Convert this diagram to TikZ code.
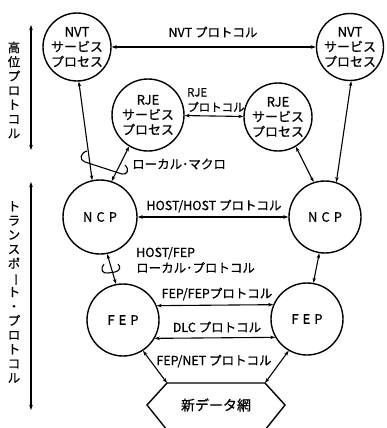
\documentclass[tikz,border=0pt]{standalone}
\usepackage{fontspec}
\newfontfamily\jp[FakeBold=0.6]{Noto Sans CJK JP}
\usetikzlibrary{arrows.meta,calc}
% vertical long-vowel mark for stacked (tategaki) text
\newcommand\tatebar{\rotatebox[origin=c]{-90}{ー}}
\begin{document}
\begin{tikzpicture}[x=1pt,y=-1pt,
  proc/.style={circle,draw,line width=1.4pt,inner sep=0pt,align=center,
    font=\jp\fontsize{13}{15}\selectfont},
  lbl/.style={font=\jp\fontsize{12.5}{15.5}\selectfont,inner sep=1pt},
  vtext/.style={font=\jp\fontsize{12.5}{14.3}\selectfont,align=center,inner sep=0pt},
  link/.style={line width=1.1pt,{Stealth[length=5pt,width=3.5pt]}-{Stealth[length=5pt,width=3.5pt]}},
  hookline/.style={line width=1.1pt}]
\useasboundingbox (0,0) rectangle (386,428);

% process circles
\node[proc,minimum size=68pt] (nvtL) at (77,47) {NVT\\サービス\\プロセス};
\node[proc,minimum size=67pt] (nvtR) at (350,47) {NVT\\サービス\\プロセス};
\node[proc,minimum size=72pt] (rjeL) at (148,115) {RJE\\サービス\\プロセス};
\node[proc,minimum size=68pt] (rjeR) at (278,117) {RJE\\サービス\\プロセス};
\node[proc,minimum size=74pt] (ncpL) at (100,217) {N\hspace{4pt}C\hspace{4pt}P};
\node[proc,minimum size=72pt] (ncpR) at (325,217) {N\hspace{4pt}C\hspace{4pt}P};
\node[proc,minimum size=72pt] (fepL) at (123,320) {F\hspace{4pt}E\hspace{4pt}P};
\node[proc,minimum size=72pt] (fepR) at (307,319) {F\hspace{4pt}E\hspace{4pt}P};

% network hexagon (bottom edge runs off the page)
\node[font=\jp\fontsize{14}{14}\selectfont] (net) at (216,405) {新データ網};
\coordinate (hexTL) at (167,383);
\coordinate (hexTR) at (265,383);
\draw[line width=1.4pt] (167,430) -- (147,405) -- (hexTL) -- (hexTR) -- (285,405) -- (265,430);

% peer protocols
\draw[link] (nvtL) -- (nvtR);
\node[lbl] (lnvt) at (213,32) {NVT プロトコル};
\draw[link] (rjeL) -- (rjeR);
\node[lbl,font=\jp\fontsize{11.5}{15}\selectfont,align=left,anchor=west] (lrje) at (186,100) {RJE\\プロトコル};
\draw[link] (ncpL) -- (ncpR);
\node[lbl] (lhost) at (214,206) {HOST/HOST プロトコル};
\draw[link] (fepL.23) -- (fepR.157);
\node[lbl] (lfep) at (217,294) {FEP/FEPプロトコル};
\draw[link] (fepL.-30) -- (fepR.-150);
\node[lbl] (ldlc) at (217,327) {DLC プロトコル};
\node[lbl] (lnet) at (214,361) {FEP/NET プロトコル};

% vertical interfaces
\draw[link] (nvtL.-87) -- (ncpL.102);
\draw[link] (rjeL.239) -- (ncpL.72);
\draw[link] (nvtR.-88) -- (ncpR.72);
\draw[link] (rjeR.-59) -- (ncpR.108);
\draw[link] (ncpL.-79) -- (fepL.101);
\draw[link] (ncpR.-99) -- (fepR.80);
\draw[link] (fepL.-57) -- (hexTL);
\draw[link] (fepR.240) -- (hexTR);

% local macro bracket
\draw[hookline] (87,151) .. controls (80,153) and (79,160) .. (85,162)
  -- (122,174) .. controls (127,175) and (130,170) .. (125,165);
\node[lbl,anchor=west] (lmac) at (131,164) {ローカル･マクロ};

% HOST/FEP local protocol bracket
\draw[hookline] (104,264) .. controls (100,269) and (102,274) .. (108,273)
  -- (115,272) .. controls (120,271) and (121,267) .. (118,264);
\node[lbl,align=left,anchor=west] (lhf) at (135,260) {HOST/FEP\\ローカル･プロトコル};

% layer ranges on the left
\coordinate (hiTop) at (31,25);
\coordinate (hiBot) at (31,150);
\draw[link] (hiTop) -- (hiBot);
\node[vtext] (lhi) at (14,90) {高\\位\\プ\\ロ\\ト\\コ\\ル};
\coordinate (trTop) at (31,182);
\coordinate (trBot) at (31,410);
\draw[link] (trTop) -- (trBot);
\node[vtext] (ltr) at (14,292) {ト\\ラ\\ン\\ス\\ポ\\\tatebar\\ト\\・\\プ\\ロ\\ト\\コ\\ル};
\end{tikzpicture}
\end{document}
